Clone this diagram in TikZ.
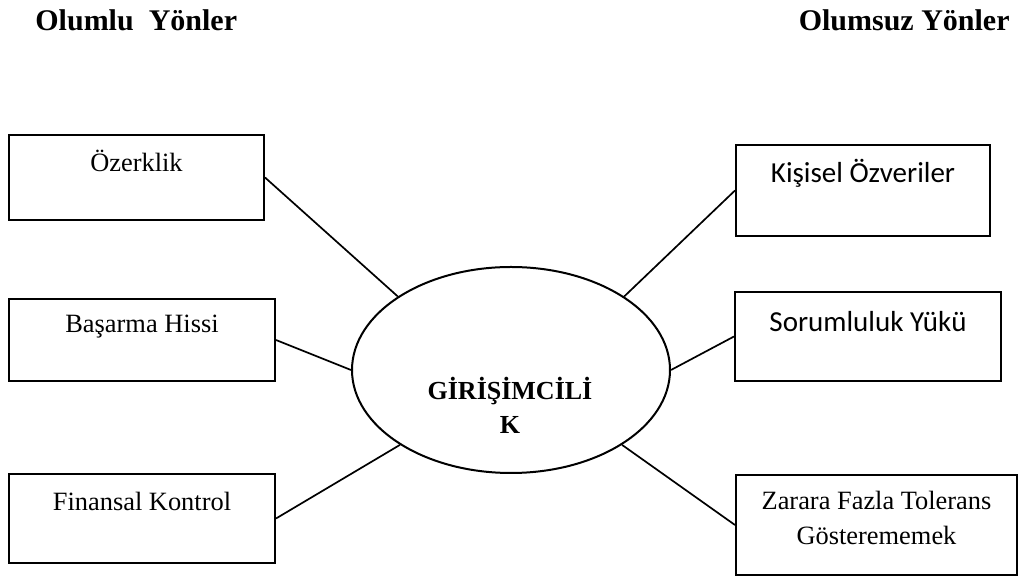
\documentclass[tikz,border=0pt]{standalone}
\usepackage{fontspec}
\setmainfont{Liberation Serif}
\newfontfamily\calibri{Carlito}
\usetikzlibrary{shapes.geometric}

\begin{document}
\begin{tikzpicture}[x=0.5pt, y=-0.5pt,
    kutu/.style={draw, rectangle, line width=1pt, inner sep=0pt},
    baglanti/.style={draw=black, line width=0.85pt},
    yazi/.style={anchor=base, inner sep=0pt, font=\fontsize{13.2}{17.5}\selectfont},
    sansyazi/.style={anchor=base, inner sep=0pt, font=\calibri\fontsize{14.5}{17.5}\selectfont},
    baslik/.style={inner sep=0pt, font=\bfseries\fontsize{15}{18}\selectfont}]
    \useasboundingbox (0,0) rectangle (1019,576);

    \node(olumlu) [baslik, anchor=base west] at (35,31)   {Olumlu\ \ Yönler};
    \node(olumsuz) [baslik, anchor=base east] at (1010,31) {Olumsuz Yönler};

    \node(merkez) [ellipse, draw, line width=1pt, inner sep=0pt,
        minimum width=159pt, minimum height=103pt] at (511,370) {};
    % base anchor of a two-line node sits on its last line
    \node(merkezyazi) [anchor=base, inner sep=0pt, align=center,
        font=\bfseries\fontsize{13}{17}\selectfont] at (510,434) {GİRİŞİMCİLİ\\K};

    \node(ozerk) [kutu, minimum width=127.5pt, minimum height=42.5pt] at (136.5,177.5) {};
    \node(basar) [kutu, minimum width=133pt, minimum height=41pt]     at (142,340)     {};
    \node(finans) [kutu, minimum width=133pt, minimum height=44.5pt]  at (142,518.5)   {};
    \node(kisisel) [kutu, minimum width=127pt, minimum height=45.5pt] at (863,190.5)   {};
    \node(sorum) [kutu, minimum width=133pt, minimum height=44.5pt]   at (868,336.5)   {};
    \node(zarar) [kutu, minimum width=140.5pt, minimum height=50pt]   at (876.5,525)   {};

    \node(ozerkyazi)   [yazi]     at (136.5,172) {Özerklik};
    \node(basaryazi)   [yazi]     at (142,333)   {Başarma Hissi};
    \node(finansyazi)  [yazi]     at (142,511)   {Finansal Kontrol};
    \node(kisiselyazi) [sansyazi] at (863,183)   {Kişisel Özveriler};
    \node(sorumyazi)   [sansyazi] at (868,332)   {Sorumluluk Yükü};
    \node(zararyazi)   [yazi, align=center] at (876.5,545) {Zarara Fazla Tolerans\\Gösterememek};

    \draw [baglanti] (ozerk.east)  -- (merkez.147);
    \draw [baglanti] (basar.east)  -- (merkez.180);
    \draw [baglanti] (finans.east) -- (merkez.214);
    \draw [baglanti] (kisisel.west) -- (merkez.33);
    \draw [baglanti] (sorum.west)  -- (merkez.0);
    \draw [baglanti] (zarar.west)  -- (merkez.-34);

  \end{tikzpicture}
\end{document}
